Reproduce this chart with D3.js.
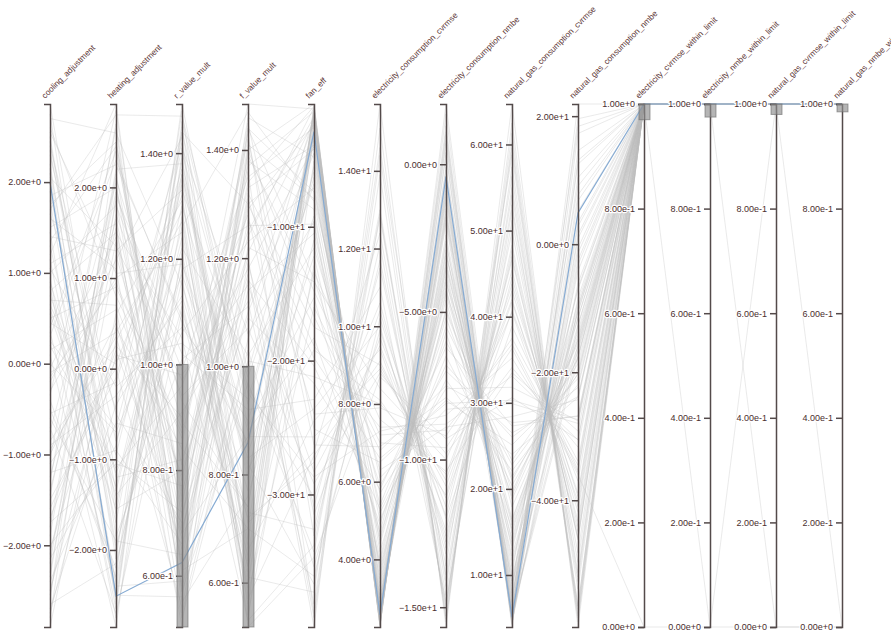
<!DOCTYPE html>
<html>
<head>
<meta charset="utf-8">
<script src="https://cdn.jsdelivr.net/npm/d3@7"></script>
<style>
  body { margin: 0; background: #fff; }
  svg { display: block; font-family: "Liberation Sans", Arial, sans-serif; }
  .axis path, .axis line { stroke: #534a4a; stroke-width: 1.5px; }
  .axis text { font-size: 9px; fill: #4a2e2e; paint-order: stroke; stroke: #fff; stroke-width: 2.5px; stroke-linejoin: round; }
  .label { font-size: 8.3px; fill: #5e3838; paint-order: stroke; stroke: #fff; stroke-width: 2px; stroke-linejoin: round; }
</style>
</head>
<body>
<div id="chart"></div>
<script>
// dimension names (left to right)
const dims = ['cooling_adjustment', 'heating_adjustment', 'r_value_mult', 'f_value_mult', 'fan_eff',
  'electricity_consumption_cvrmse', 'electricity_consumption_nmbe',
  'natural_gas_consumption_cvrmse', 'natural_gas_consumption_nmbe',
  'electricity_cvrmse_within_limit', 'electricity_nmbe_within_limit',
  'natural_gas_cvrmse_within_limit', 'natural_gas_nmbe_within_limit'];

// one array per dimension, one entry per run
const coolingAdj = [
  2.86, -2.9, 1.2, -0.4, 0.8, -1.7, 2.3, -2.2,
  0.1, 1.6, -0.9, -2.6, 2.5, 0.5, -1.3, 1.9,
  -0.1, -2.0, 1.0, 2.1, -1.1, 0.3, -2.4, 1.4,
  -0.6, 2.7, -1.5, 0.7, -2.8, 1.8, -0.3, 0.9,
  -1.9, 2.4, -0.7, 1.1, -2.5, 0.2, 1.7, -1.2,
  2.6, -0.5, -2.1, 1.3, 0.4, -1.6, 2.0, -0.2,
  -2.7, 1.5, 0.6, -1.0, 2.2, -2.3, 0.0, 1.75,
  -1.4, 2.45, -0.85, 0.35, -1.8, 1.05, -2.55, 0.65,
  0.95, -2.35, 1.65, -0.15, 2.75, -1.05, 0.45, -1.75,
  2.05, -0.55, 1.35, -2.65, 0.15, 2.35, -1.45, 0.85,
  -0.95, 1.85, -2.15, 0.55, 2.55, -0.35, 1.15, -2.75,
  0.25, -1.25, 2.15, -0.75, 1.45, -2.05, 0.75, -0.05];
const heatingAdj = [
  -1.2, 0.6, 2.92, -2.3, 1.5, 0.2, -0.8, 2.1,
  -2.85, 1.1, -0.3, 2.5, -1.6, 0.9, 2.7, -2.0,
  0.4, -1.0, 1.8, -2.6, 0.0, 2.3, -0.6, 1.3,
  -1.9, 2.6, -0.1, 0.7, 1.9, -2.4, 1.0, -1.4,
  2.2, -0.5, -2.7, 1.6, 0.3, -1.1, 2.8, -0.9,
  0.8, -2.2, 1.4, -1.7, 2.4, 0.1, -2.5, 1.2,
  -0.4, 2.0, -1.3, 0.5, -2.1, 1.7, -0.7, 2.5,
  1.55, -1.5, 0.25, -2.45, 2.15, -0.2, 1.25, -0.95,
  -2.75, 1.85, -0.45, 0.95, -1.85, 2.65, 0.05, -1.05,
  1.35, -0.15, 2.45, -2.15, 0.65, -1.35, 1.95, -2.65,
  0.35, 2.25, -0.85, -1.55, 1.05, 2.85, -2.35, 0.15,
  -0.65, 1.65, -1.95, 2.05, -2.55, 0.45, -1.15, 1.45];
const rValueMult = [
  0.82, 1.31, 0.57, 1.493, 1.05, 0.68, 1.22, 0.93,
  1.40, 0.503, 1.12, 0.76, 1.36, 0.88, 0.61, 1.18,
  1.27, 0.72, 0.99, 1.45, 0.54, 1.08, 0.85, 1.33,
  0.64, 1.15, 1.42, 0.79, 1.02, 0.59, 1.25, 0.91,
  1.38, 0.70, 1.10, 0.53, 1.29, 0.96, 1.47, 0.66,
  0.87, 1.20, 0.62, 1.35, 0.75, 1.04, 0.56, 1.43,
  1.13, 0.81, 1.30, 0.67, 1.48, 0.94, 1.17, 0.74,
  0.58, 1.24, 0.90, 1.39, 0.69, 1.07, 0.78, 1.34,
  1.21, 0.63, 1.44, 0.86, 1.01, 0.55, 1.32, 0.77,
  0.97, 1.37, 0.71, 1.16, 0.52, 1.26, 0.89, 1.46,
  0.65, 1.09, 1.41, 0.80, 1.19, 0.60, 1.28, 0.98,
  1.36, 0.73, 1.11, 0.57, 1.44, 0.84, 1.06, 0.68];
const fValueMult = [
  1.21, 0.66, 1.40, 0.89, 0.53, 1.30, 1.02, 0.74,
  0.95, 1.44, 0.60, 1.17, 0.81, 1.485, 0.70, 1.26,
  0.56, 1.09, 1.35, 0.63, 1.19, 0.86, 1.42, 0.98,
  1.32, 0.77, 0.518, 1.24, 0.92, 1.38, 0.68, 1.12,
  0.84, 1.46, 0.72, 1.05, 0.58, 1.28, 0.99, 1.16,
  1.37, 0.61, 1.14, 0.79, 1.45, 0.94, 1.22, 0.55,
  0.73, 1.33, 0.88, 1.41, 0.64, 1.07, 0.83, 1.29,
  1.03, 0.54, 1.25, 0.71, 1.10, 0.90, 1.36, 0.62,
  0.67, 1.27, 0.93, 1.43, 1.11, 0.76, 0.57, 1.34,
  1.18, 0.82, 1.39, 0.59, 1.01, 1.47, 0.74, 0.96,
  1.31, 0.65, 1.06, 1.20, 0.85, 1.40, 0.53, 1.15,
  0.80, 1.44, 0.63, 0.97, 1.30, 0.70, 1.23, 0.87];
const fanEff = [
  -2.1, -24.5, -0.83, -15.3, -33.8, -4.2, -11.6, -1.5,
  -28.7, -7.4, -3.0, -39.9, -19.2, -1.2, -36.1, -9.8,
  -5.1, -21.7, -2.6, -13.4, -30.9, -1.9, -26.3, -6.8,
  -17.5, -3.6, -34.7, -1.1, -22.9, -8.7, -2.3, -38.2,
  -12.2, -4.8, -27.6, -1.7, -16.0, -31.5, -3.3, -20.4,
  -1.4, -37.3, -10.5, -2.8, -25.1, -5.9, -14.1, -0.95,
  -32.6, -3.9, -18.3, -7.9, -1.3, -29.2, -23.6, -2.4,
  -35.4, -12.9, -1.8, -26.8, -4.5, -9.2, -38.9, -2.0,
  -1.6, -19.8, -6.3, -33.1, -2.2, -11.0, -27.1, -1.0,
  -4.0, -36.7, -14.8, -2.9, -21.2, -8.1, -1.45, -30.2,
  -24.0, -1.9, -9.6, -39.2, -3.4, -16.7, -0.9, -28.3,
  -5.5, -13.9, -2.5, -34.3, -18.9, -1.15, -7.1, -25.7];
const elecCvrmse = [
  2.5, 9.4, 2.26, 4.7, 12.8, 2.9, 6.3, 2.4,
  7.3, 5.2, 2.7, 15.72, 8.1, 2.35, 10.2, 3.5,
  3.4, 5.8, 2.6, 7.6, 11.5, 2.5, 6.9, 4.2,
  9.0, 3.0, 8.7, 2.3, 11.0, 3.8, 2.55, 13.9,
  4.5, 2.8, 10.6, 2.45, 7.0, 9.7, 2.85, 5.3,
  2.4, 14.6, 5.7, 2.75, 6.5, 3.6, 8.4, 2.3,
  12.1, 3.1, 4.9, 6.1, 2.35, 8.8, 10.0, 2.65,
  9.9, 3.9, 2.5, 12.4, 3.2, 5.0, 15.1, 2.55,
  2.45, 6.6, 3.7, 11.7, 2.6, 5.4, 9.1, 2.3,
  3.0, 12.9, 7.2, 2.7, 8.0, 4.6, 2.4, 10.4,
  7.9, 2.55, 4.0, 14.4, 2.9, 6.8, 2.3, 9.5,
  3.3, 5.9, 2.65, 13.0, 7.4, 2.35, 4.4, 8.9];
const elecNmbe = [
  -1.5, -12.4, 2.04, -4.2, -14.3, -3.1, -8.9, -0.4,
  -8.5, -7.3, -2.4, -15.67, -11.2, 0.7, -12.0, -3.6,
  -4.0, -6.2, -1.3, -10.4, -13.6, -0.9, -7.9, -5.7,
  -10.9, -2.7, -9.3, 1.3, -14.8, -4.9, -2.0, -15.3,
  -4.6, -3.5, -13.0, -0.2, -9.6, -11.6, -1.8, -6.8,
  1.0, -14.1, -7.6, -1.1, -8.0, -3.9, -10.0, 1.7,
  -15.0, -2.9, -5.5, -8.3, 0.3, -9.8, -13.2, -0.8,
  -12.6, -4.3, -0.6, -14.6, -3.3, -6.5, -15.5, -1.6,
  -0.7, -8.1, -4.4, -13.9, -1.9, -6.0, -11.3, 0.4,
  -3.0, -15.1, -9.0, -1.2, -10.5, -5.2, 1.1, -12.8,
  -9.2, -1.0, -3.8, -15.4, -2.6, -7.5, 0.8, -11.9,
  -3.4, -7.0, -1.7, -14.9, -8.8, -0.1, -5.0, -10.7];
const gasCvrmse = [
  6.8, 47.0, 5.4, 14.2, 56.3, 17.9, 28.4, 4.6,
  35.2, 22.1, 9.3, 64.7, 43.8, 4.3, 38.9, 11.7,
  19.6, 27.3, 7.9, 33.5, 58.8, 5.8, 24.0, 15.4,
  41.7, 12.9, 30.6, 3.96, 51.2, 21.0, 6.2, 61.3,
  13.4, 16.5, 49.9, 5.1, 36.3, 45.4, 10.1, 26.0,
  4.8, 53.0, 31.8, 8.7, 25.1, 12.2, 40.5, 4.2,
  59.6, 9.8, 23.3, 29.9, 5.0, 34.1, 47.7, 6.5,
  44.6, 18.8, 5.6, 55.0, 14.9, 20.4, 62.5, 7.4,
  5.5, 30.3, 16.2, 54.1, 8.2, 22.8, 40.7, 4.4,
  11.0, 57.4, 36.8, 6.9, 42.0, 19.2, 4.5, 48.3,
  37.5, 6.1, 15.8, 60.2, 9.0, 27.7, 4.9, 46.6,
  13.8, 26.5, 7.6, 52.4, 33.1, 5.3, 21.4, 43.0];
const gasNmbe = [
  12.5, -45.8, 21.9, -9.1, -57.0, -17.6, -24.3, -8.4,
  -34.5, -21.9, -4.2, -59.8, -41.0, 6.8, -35.3, -12.6,
  -15.4, -26.8, 3.4, -29.2, -56.6, -16.5, -23.9, -14.7,
  -38.9, -7.1, -30.5, 17.3, -49.7, -17.9, -6.1, -59.0,
  -10.6, -16.0, -48.2, -3.2, -36.0, -44.9, 9.1, -22.4,
  1.5, -52.7, -27.6, -0.6, -21.0, -11.5, -40.2, 14.6,
  -58.1, -10.4, -18.7, -28.0, -12.8, -31.7, -46.0, 5.2,
  -43.3, -16.8, 10.4, -53.9, -11.5, -19.5, -58.4, -2.5,
  -17.5, -27.4, -13.6, -52.0, 18.4, -20.3, -37.0, 0.9,
  -6.8, -56.5, -35.6, 7.7, -41.8, -15.0, -9.9, -46.2,
  -33.9, 2.8, -14.2, -57.7, -15.8, -26.9, 19.6, -44.1,
  -9.7, -23.8, -1.4, -51.3, -30.6, 13.1, -20.2, -39.4];
const elecCvrmseOk = [
  1, 1, 1, 1, 1, 1, 1, 1,  1, 1, 1, 1, 1, 1, 1, 1,
  1, 1, 1, 1, 1, 1, 1, 1,  1, 1, 1, 1, 1, 1, 1, 1,
  1, 1, 1, 1, 0, 1, 1, 1,  1, 1, 1, 1, 1, 1, 1, 1,
  1, 1, 1, 1, 1, 1, 1, 1,  1, 1, 1, 1, 1, 1, 1, 1,
  1, 1, 1, 1, 1, 1, 1, 1,  1, 1, 1, 1, 1, 1, 1, 1,
  1, 1, 1, 1, 1, 1, 1, 1,  1, 1, 1, 1, 1, 1, 1, 1];
const elecNmbeOk = [
  1, 1, 1, 1, 1, 1, 1, 1,  1, 1, 0, 1, 1, 1, 1, 1,
  1, 1, 1, 1, 1, 1, 1, 1,  1, 1, 1, 1, 1, 1, 1, 1,
  1, 1, 1, 1, 0, 1, 1, 1,  1, 1, 1, 1, 1, 1, 1, 1,
  1, 1, 1, 1, 1, 1, 1, 1,  1, 1, 1, 1, 1, 1, 1, 1,
  1, 1, 1, 1, 1, 1, 1, 1,  1, 1, 1, 1, 1, 1, 1, 1,
  1, 1, 1, 1, 1, 1, 1, 1,  1, 1, 1, 1, 1, 1, 1, 1];
const gasCvrmseOk = [
  1, 1, 1, 1, 1, 1, 1, 1,  1, 1, 1, 1, 1, 1, 1, 1,
  1, 1, 1, 1, 1, 1, 1, 1,  1, 1, 1, 1, 1, 1, 1, 1,
  1, 1, 1, 1, 0, 1, 1, 1,  1, 1, 1, 1, 1, 0, 1, 1,
  1, 1, 1, 1, 1, 1, 1, 1,  1, 1, 1, 1, 1, 1, 1, 1,
  1, 1, 1, 1, 1, 1, 1, 1,  1, 1, 1, 1, 1, 1, 1, 1,
  1, 1, 1, 1, 1, 1, 1, 1,  1, 1, 1, 1, 1, 1, 1, 1];
const gasNmbeOk = [
  1, 1, 1, 1, 1, 1, 1, 1,  1, 1, 0, 1, 1, 1, 1, 1,
  1, 1, 1, 1, 1, 1, 1, 1,  1, 1, 1, 1, 1, 1, 1, 1,
  1, 1, 1, 1, 0, 1, 1, 1,  1, 1, 1, 1, 1, 0, 1, 1,
  1, 1, 1, 1, 1, 1, 1, 1,  1, 1, 1, 1, 1, 1, 1, 1,
  1, 1, 1, 1, 1, 1, 1, 1,  1, 1, 1, 1, 1, 1, 1, 1,
  1, 1, 1, 1, 1, 1, 1, 1,  1, 1, 1, 1, 1, 1, 1, 1];

// the one run that passes every brush (drawn blue)
const selectedRun = [2.0, -2.51, 0.625, 0.859, -2.9, 2.57, -0.42, 5.1, 4.87, 1, 1, 1, 1];

// brushed ranges on the axes
const brushDims = ['r_value_mult', 'f_value_mult', 'electricity_cvrmse_within_limit',
  'electricity_nmbe_within_limit', 'natural_gas_cvrmse_within_limit', 'natural_gas_nmbe_within_limit'];
const brushLo = [0.503, 0.518, 0.97, 0.975, 0.98, 0.985];
const brushHi = [1.0, 1.0, 1.0, 1.0, 1.0, 1.0];

const columns = [coolingAdj, heatingAdj, rValueMult, fValueMult, fanEff, elecCvrmse, elecNmbe,
  gasCvrmse, gasNmbe, elecCvrmseOk, elecNmbeOk, gasCvrmseOk, gasNmbeOk];

var width = 891, height = 631;
var plotTop = 104, plotBottom = 627;

var svg = d3.select('#chart').append('svg')
  .attr('width', width)
  .attr('height', height);

const xScale = d3.scalePoint().domain(dims).range([50, 842]);
const yScale = {};
dims.forEach((d, i) => {
  yScale[d] = d3.scaleLinear()
    .domain(d3.extent(columns[i].concat([selectedRun[i]])))
    .range([plotBottom, plotTop]);
});

const runs = d3.range(coolingAdj.length).map(j => columns.map(c => c[j]));

const line = d3.line()
  .x((v, i) => xScale(dims[i]))
  .y((v, i) => yScale[dims[i]](v));

// background runs
svg.append('g').attr('class', 'background')
  .selectAll('path').data(runs).join('path')
  .attr('d', line)
  .attr('fill', 'none')
  .attr('stroke', '#bdbdbd')
  .attr('stroke-opacity', 0.32)
  .attr('stroke-width', 1);

// highlighted run
svg.append('g').attr('class', 'foreground')
  .append('path').datum(selectedRun)
  .attr('d', line)
  .attr('fill', 'none')
  .attr('stroke', '#86abd3')
  .attr('stroke-width', 1.2);

// axes
const axisG = svg.selectAll('.dimension').data(dims).join('g')
  .attr('class', 'dimension')
  .attr('transform', d => 'translate(' + xScale(d) + ',0)');

axisG.append('g').attr('class', 'axis')
  .each(function (d) {
    d3.select(this).call(d3.axisLeft(yScale[d]).ticks(5).tickFormat(d3.format('.2e')));
  });

// brushes
brushDims.forEach((d, i) => {
  const s = yScale[d];
  svg.append('rect')
    .attr('x', xScale(d) - 5)
    .attr('width', 11)
    .attr('y', s(brushHi[i]))
    .attr('height', s(brushLo[i]) - s(brushHi[i]))
    .attr('fill', '#8e8e8e')
    .attr('fill-opacity', 0.65)
    .attr('stroke', '#6a6a6a')
    .attr('stroke-opacity', 0.6);
});

// axis titles
axisG.append('text')
  .attr('class', 'label')
  .attr('transform', 'translate(-5,99) rotate(-45)')
  .attr('text-anchor', 'start')
  .text(d => d);
</script>
</body>
</html>
